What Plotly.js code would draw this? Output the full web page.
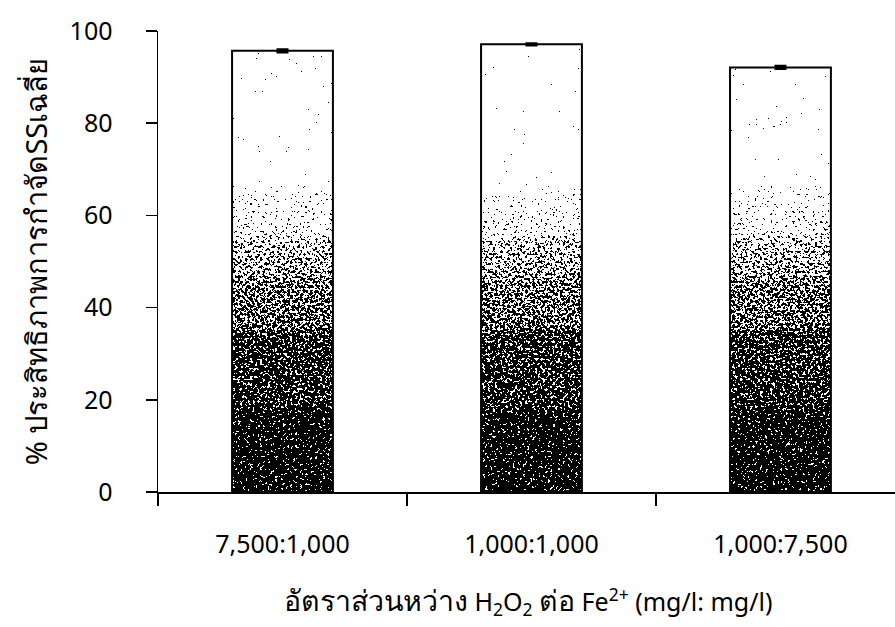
<!DOCTYPE html>
<html>
<head>
<meta charset="utf-8">
<script src="https://cdn.plot.ly/plotly-3.0.1.min.js"></script>
<style>
  html, body { margin: 0; padding: 0; background: #fff; overflow: hidden; }
  #chart { width: 895px; height: 627px; }
</style>
</head>
<body>
<div id="chart"></div>
<svg width="0" height="0" style="position:absolute">
  <defs>
    <filter id="stip" x="-5%" y="-5%" width="110%" height="110%" color-interpolation-filters="sRGB">
      <feTurbulence type="fractalNoise" baseFrequency="0.4" numOctaves="3" seed="7" result="n"/>
      <feColorMatrix in="n" type="matrix" values="1 0 0 0 0  1 0 0 0 0  1 0 0 0 0  0 0 0 0 1" result="ng"/>
      <feComposite in="SourceGraphic" in2="ng" operator="arithmetic" k1="0" k2="1.4" k3="2.2" k4="-1.3" result="mix"/>
      <feComponentTransfer in="mix" result="thr">
        <feFuncR type="discrete" tableValues="0 1"/>
        <feFuncG type="discrete" tableValues="0 1"/>
        <feFuncB type="discrete" tableValues="0 1"/>
        <feFuncA type="linear" slope="0" intercept="1"/>
      </feComponentTransfer>
      <feComposite in="thr" in2="SourceAlpha" operator="in"/>
    </filter>
  </defs>
</svg>
<script>
// ---- data ----
const categories = ["7,500:1,000", "1,000:1,000", "1,000:7,500"];
const removal = [95.7, 97.1, 92.1];
const removalErr = [0.3, 0.2, 0.3];
const yTicks = [0, 20, 40, 60, 80, 100];

// ---- style: stipple lightness by y-value (0 = black, 1 = white) ----
const shadeStops = [[0,0.24],[17,0.255],[18.5,0.33],[34,0.355],[36,0.457],[46,0.5],[48,0.571],[54,0.629],[56,0.75],[64,0.836],[68,1]];

const FONT = "Noto Sans, DejaVu Sans, sans-serif";
const TH = 'style="font-size:28.5px"';

const trace = {
  type: "bar",
  x: categories,
  y: removal,
  width: 0.405,
  marker: { color: "#ffffff", line: { color: "#000000", width: 2 } },
  error_y: { type: "data", array: removalErr, visible: true, color: "#000000", thickness: 2.5, width: 6 },
  hoverinfo: "none"
};

const layout = {
  width: 895, height: 627,
  margin: { l: 158, r: 0, t: 31, b: 135 },
  paper_bgcolor: "#ffffff", plot_bgcolor: "#ffffff",
  showlegend: false,
  font: { family: FONT, color: "#000000", size: 25 },
  xaxis: {
    type: "category",
    range: [-0.5, 2.46],
    showline: true, linecolor: "#000000", linewidth: 1.5,
    ticks: "outside", ticklen: 12, tickwidth: 1.5, tickcolor: "#000000",
    tickson: "boundaries",
    showgrid: false, zeroline: false,
    tickfont: { family: FONT, size: 25, color: "#000000" },
    ticklabelstandoff: 29,
    automargin: false
  },
  yaxis: {
    range: [0, 100],
    tickvals: yTicks,
    ticktext: yTicks.map(String),
    showline: true, linecolor: "#000000", linewidth: 1.5,
    ticks: "outside", ticklen: 11, tickwidth: 1.5, tickcolor: "#000000",
    showgrid: false, zeroline: false,
    tickfont: { family: FONT, size: 25, color: "#000000" },
    ticklabelstandoff: 28,
    title: { text: "% ประสิทธิภาพการกำจัดSSเฉลี่ย", font: { family: FONT, size: 29, color: "#000000" }, standoff: 13 },
    automargin: false
  },
  annotations: [{
    xref: "paper", yref: "paper",
    x: (528 - 158) / (895 - 158), y: -0.237,
    xanchor: "center", yanchor: "middle",
    showarrow: false,
    font: { family: FONT, size: 25, color: "#000000" },
    text: "<span " + TH + ">อัตราส่วนหว่าง</span> H<sub>2</sub>O<sub>2</sub> <span " + TH + ">ต่อ</span> Fe<sup>2+</sup> (mg/l: mg/l)"
  }]
};

const gd = document.getElementById("chart");
Plotly.newPlot(gd, [trace], layout, { staticPlot: true, displayModeBar: false }).then(function () {
  const ya = gd._fullLayout.yaxis;
  const svgNS = "http://www.w3.org/2000/svg";
  const defs = document.querySelector("svg defs");
  const grad = document.createElementNS(svgNS, "linearGradient");
  grad.setAttribute("id", "shade");
  grad.setAttribute("gradientUnits", "userSpaceOnUse");
  grad.setAttribute("x1", "0"); grad.setAttribute("x2", "0");
  grad.setAttribute("y1", String(ya.l2p(0)));
  grad.setAttribute("y2", String(ya.l2p(100)));
  shadeStops.forEach(function (s) {
    const st = document.createElementNS(svgNS, "stop");
    st.setAttribute("offset", String(s[0] / 100));
    const L = Math.round(255 * s[1]);
    st.setAttribute("stop-color", "rgb(" + L + "," + L + "," + L + ")");
    grad.appendChild(st);
  });
  defs.appendChild(grad);
  gd.querySelectorAll(".trace.bars .point path").forEach(function (p) {
    const c = p.cloneNode(true);
    c.style.fill = "url(#shade)";
    c.style.fillOpacity = "1";
    c.style.stroke = "none";
    c.setAttribute("filter", "url(#stip)");
    p.parentNode.insertBefore(c, p);
    p.style.fill = "none";
  });
});
</script>
</body>
</html>
